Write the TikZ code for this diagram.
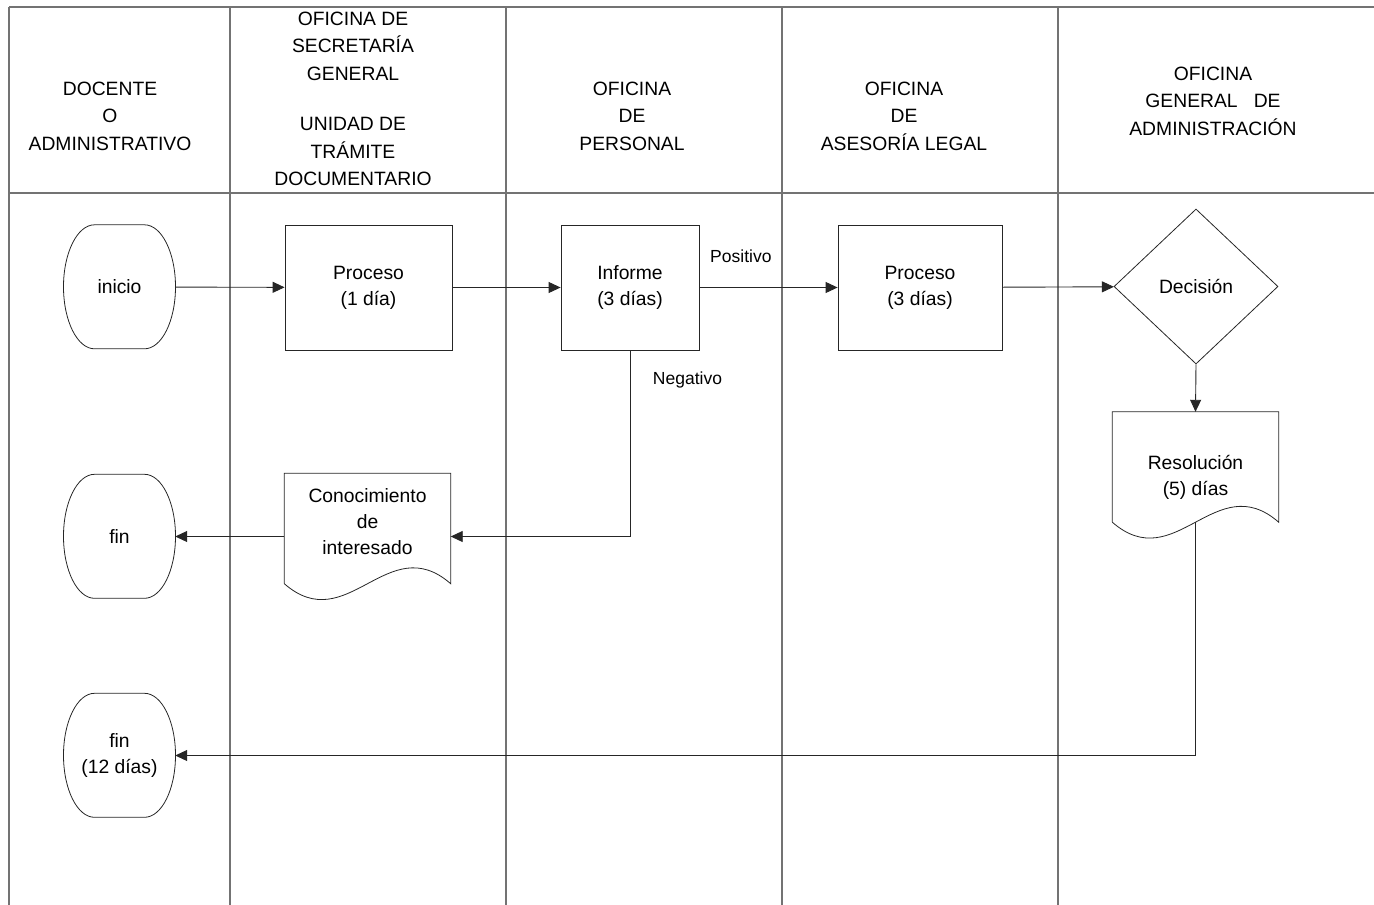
\documentclass[tikz,border=0pt]{standalone}
\usepackage{fontspec}
\setmainfont{Liberation Sans}
\usetikzlibrary{arrows.meta,shapes.geometric}
\begin{document}
\begin{tikzpicture}[x=1pt,y=1pt,
    every node/.style={font=\fontsize{19.3}{26}\selectfont,align=center,inner sep=0pt},
    lane/.style={draw=black!55,line width=1.2pt},
    head/.style={font=\fontsize{19.3}{27.5}\selectfont},
    outline/.style={draw=black!85,line width=0.8pt},
    proc/.style={outline,rectangle,minimum height=125},
    terminal/.style={rectangle,minimum width=111,minimum height=124},
    docu/.style={rectangle,minimum width=166,minimum height=110},
    deci/.style={outline,diamond,minimum width=164,minimum height=155},
    lbl/.style={font=\fontsize{17.5}{22}\selectfont},
    conn/.style={draw=black!85,line width=0.9pt},
    arr/.style={conn,-{Triangle[length=12pt,width=11pt]}}]
    \useasboundingbox (0,0) rectangle (1374,-905);
    % lanes
    \draw[lane] (9,-7) -- (1374,-7);
    \draw[lane] (9,-193) -- (1374,-193);
    \foreach \x in {9,230,506,782,1058}
        \draw[lane] (\x,-7) -- (\x,-905);
    \node[head] (h1) at (110,-116) {DOCENTE\\O\\ADMINISTRATIVO};
    \node[head] (h2) at (353,-99) {OFICINA DE\\SECRETARÍA\\GENERAL\\[23pt]UNIDAD DE\\TRÁMITE\\DOCUMENTARIO};
    \node[head] (h3) at (632,-116) {OFICINA\\DE\\PERSONAL};
    \node[head] (h4) at (904,-116) {OFICINA\\DE\\ASESORÍA LEGAL};
    \node[head] (h5) at (1213,-101) {OFICINA\\GENERAL\ \ \ DE\\ADMINISTRACIÓN};
    % shapes
    \node[terminal] (ini) at (119.5,-287) {inicio};
    \node[terminal] (fa) at (119.5,-536.5) {fin};
    \node[terminal] (fb) at (119.5,-755.5) {fin\\(12 días)};
    \node[proc,minimum width=167] (p1) at (368.5,-287.5) {Proceso\\(1 día)};
    \node[proc,minimum width=138] (inf) at (630,-287.5) {Informe\\(3 días)};
    \node[proc,minimum width=164] (p2) at (920,-287.5) {Proceso\\(3 días)};
    \node[deci] (dec) at (1196,-286.5) {Decisión};
    \node[docu,text height=66pt,text depth=14pt] (con) at (367.5,-528.5) {Conocimiento\\de\\interesado};
    \node[docu,text height=61pt,text depth=4pt] (res) at (1195.5,-467) {Resolución\\(5) días};
    \foreach \n in {ini,fa,fb}
        \draw[outline] (\n.north) ++(-25,0) -- ++(50,0)
            arc[start angle=90,end angle=-90,x radius=31,y radius=62] -- ++(-50,0)
            arc[start angle=270,end angle=90,x radius=31,y radius=62] -- cycle;
    \foreach \n in {con,res}
        \draw[outline] (\n.south west) -- (\n.north west) -- (\n.north east) -- (\n.south east)
            .. controls +(-63,55) and +(63,-55) .. (\n.south west);
    % connectors
    \draw[arr] (ini) -- (p1);
    \draw[arr] (p1) -- (inf);
    \draw[arr] (inf) -- node[lbl,above=24pt,pos=0.3] (pos) {Positivo} (p2);
    \draw[arr] (p2) -- (dec);
    \draw[arr] (inf.south) |- (fa.east -| con.east);
    \node[lbl] (neg) at (687.5,-380) {Negativo};
    \draw[arr] (fa.east -| con.west) -- (fa.east);
    \draw[arr] (dec.south) -- (res.north);
    \draw[arr] (res.south) |- (fb.east);
\end{tikzpicture}
\end{document}
